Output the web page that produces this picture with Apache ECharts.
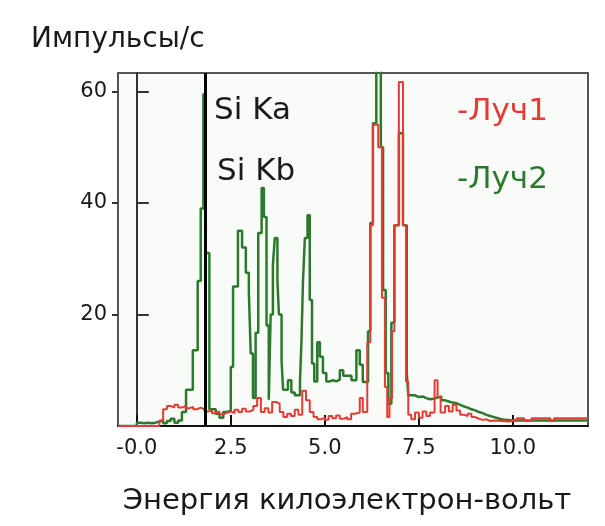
<!DOCTYPE html>
<html>
<head>
<meta charset="utf-8">
<script src="https://cdn.jsdelivr.net/npm/echarts@6/dist/echarts.min.js"></script>
<style>
html,body{margin:0;padding:0;background:#ffffff;}
#chart{width:605px;height:526px;}
</style>
</head>
<body>
<div id="chart"></div>
<script>
// Energy (keV) at the start of each step, and counts per second
const greenEnergy = [-0.5,0.0,0.1,0.2,0.3,0.4,0.5,0.6,0.7,0.8,0.9,1.0,1.1,1.2,1.31,1.49,1.62,1.70,1.77,1.83,1.93,2.1,2.2,2.3,2.4,2.5,2.56,2.69,2.8,2.9,2.98,3.03,3.09,3.16,3.23,3.32,3.38,3.45,3.51,3.56,3.62,3.67,3.74,3.78,3.85,3.89,4.02,4.11,4.2,4.34,4.38,4.42,4.47,4.54,4.6,4.66,4.72,4.8,4.87,4.95,5.04,5.13,5.22,5.31,5.4,5.49,5.6,5.71,5.84,5.93,6.01,6.15,6.21,6.28,6.37,6.49,6.55,6.62,6.69,6.77,6.85,6.97,7.08,7.18,7.22,7.3,7.4,7.5,7.6,7.7,7.8,7.9,8.0,8.1,8.2,8.3,8.4,8.5,8.6,8.7,8.8,8.9,9.0,9.1,9.2,9.3,9.4,9.5,9.6,9.7,9.8,10.0,10.5,11.0,11.5,12.0];
const greenCounts = [0,0.6,0.5,0.6,0.5,0.6,0.8,1.0,0.5,0.9,1.3,0.6,1.0,2.5,6.5,13.6,26,39,59.5,31,3,2.2,1.5,2.5,2.8,10.6,25,35,32,27.5,24,13,5,16.7,34.6,42.7,37.5,18,4.7,20,28.9,33.7,26,20,11.8,6.5,8.2,6,5.5,8,15.4,26,33.7,37.8,22.6,11.2,8,15,12.4,9.5,8,8.2,8,8.3,10,9,9,8.2,13.6,11,7.9,17,36.4,54.3,68,50,24.4,9.5,4,18.5,36,52.5,36,9.5,5.5,5.5,5.2,5.3,5.0,4.8,4.9,5.1,5.3,4.6,4.4,4.2,4.1,3.8,3.5,3.3,3.0,2.8,2.5,2.3,2.0,1.8,1.6,1.4,1.2,1.1,1.0,1.0,1.0,1.0,1.0,1.0];

const redEnergy = [-0.5,0.6,0.7,0.8,0.9,1.0,1.1,1.2,1.3,1.4,1.5,1.6,1.7,1.8,1.9,2.0,2.1,2.2,2.3,2.4,2.5,2.6,2.7,2.8,2.9,3.0,3.1,3.2,3.3,3.4,3.5,3.6,3.7,3.8,3.9,4.0,4.1,4.2,4.3,4.4,4.5,4.6,4.7,4.8,4.9,5.0,5.1,5.2,5.3,5.4,5.5,5.6,5.7,5.8,5.93,6.01,6.13,6.21,6.28,6.42,6.52,6.6,6.66,6.72,6.79,6.85,6.97,7.08,7.16,7.22,7.3,7.4,7.5,7.6,7.7,7.8,7.92,8.0,8.08,8.2,8.3,8.4,8.5,8.6,8.7,8.8,8.9,9.0,9.1,9.2,9.3,9.4,9.5,9.7,9.9,10.1,10.3,10.5,10.8,11.0,11.1,11.5,11.9,12.0];
const redCounts = [0,1.0,3.0,3.6,3.3,3.8,3.3,3.6,3.2,3.4,3.0,3.3,3.0,2.6,2.8,2.3,2.6,2.1,2.4,2.6,2.3,2.9,2.5,3.1,2.6,2.9,3.6,5.0,2.5,3.2,2.4,4.3,4.0,2.5,1.6,2.2,1.8,2.9,2.0,6.3,4.6,2.5,1.6,1.2,1.5,1.1,1.8,1.4,1.9,1.3,1.6,1.2,2.2,2.4,5.0,2.5,15,36,54,50,23,7,1.6,5,17,36,61.7,36,8,2,1.2,2.4,1.5,2.6,1.8,2.4,8.2,5.2,2.4,3.6,2.6,3.8,2.8,2.0,1.8,2.2,1.6,1.3,1.1,1.2,0.9,1.0,0.9,0.8,1.0,1.4,0.9,1.4,1.4,0.9,1.4,1.4,1.4,1.4];

const seriesNames = ['Луч1','Луч2'];
const xTickValues = [0, 2.5, 5, 7.5, 10];
const xTickLabels = ['-0.0','2.5','5.0','7.5','10.0'];
const yTickValues = [20, 40, 60];
const yTickLabels = ['20','40','60'];
const markerEnergy = [1.82];
const lineLabels = ['Si Ka','Si Kb'];

const pairs = (xs, ys) => xs.map((x, i) => [x, ys[i]]);
const FONT = 'DejaVu Sans';
const RED = '#e53b35';
const GREEN = '#2b7a2c';
const TEXT = '#1a1a1a';

const chart = echarts.init(document.getElementById('chart'));
chart.setOption({
  backgroundColor: '#ffffff',
  animation: false,
  title: {
    text: 'Импульсы/с',
    left: 26, top: 21,
    textStyle: {fontFamily: FONT, fontSize: 28, fontWeight: 'normal', color: TEXT}
  },
  legend: {
    orient: 'vertical',
    left: 447, top: 91,
    itemGap: 37,
    itemWidth: 0, itemHeight: 0,
    icon: 'rect',
    formatter: n => '-' + n,
    selectedMode: false,
    data: [
      {name: seriesNames[0], textStyle: {color: RED}},
      {name: seriesNames[1], textStyle: {color: GREEN}}
    ],
    textStyle: {fontFamily: FONT, fontSize: 31}
  },
  graphic: [
    {type: 'text', left: 214, top: 95, style: {text: lineLabels[0], font: '31px "DejaVu Sans"', fill: TEXT}},
    {type: 'text', left: 217, top: 156, style: {text: lineLabels[1], font: '31px "DejaVu Sans"', fill: TEXT}}
  ],
  grid: {
    left: 118, right: 17, top: 73, bottom: 100,
    show: true, backgroundColor: '#f9fbf8', borderColor: '#555', borderWidth: 2
  },
  xAxis: {
    type: 'value', min: -0.5, max: 12,
    name: 'Энергия килоэлектрон-вольт',
    nameLocation: 'middle', nameGap: 61,
    nameTextStyle: {fontFamily: FONT, fontSize: 29, color: TEXT, padding: [0, 12, 0, 0]},
    splitLine: {show: false},
    axisLine: {show: true, onZero: false, lineStyle: {color: '#111', width: 2}},
    axisTick: {show: true, inside: true, length: 11, customValues: xTickValues, lineStyle: {color: '#111', width: 2}},
    axisLabel: {
      customValues: xTickValues,
      formatter: v => xTickLabels[xTickValues.indexOf(v)] ?? '',
      fontFamily: FONT, fontSize: 21, color: TEXT, margin: 12
    }
  },
  yAxis: [
    {
      type: 'value', min: 0, max: 63.3,
      splitLine: {show: false},
      axisLine: {show: true, lineStyle: {color: '#333', width: 2}},
      axisTick: {show: true, inside: true, length: 12, customValues: yTickValues, lineStyle: {color: '#333', width: 2}},
      axisLabel: {
        customValues: yTickValues,
        formatter: v => yTickLabels[yTickValues.indexOf(v)] ?? '',
        fontFamily: FONT, fontSize: 21, color: TEXT, margin: 11
      }
    },
    {
      type: 'value', min: 0, max: 63.3, position: 'left',
      splitLine: {show: false},
      axisLine: {show: false},
      axisTick: {show: true, inside: false, length: 6, customValues: yTickValues, lineStyle: {color: '#333', width: 2}},
      axisLabel: {show: false}
    }
  ],
  series: [
    {
      name: seriesNames[1], type: 'line', step: 'end', symbol: 'none',
      data: pairs(greenEnergy, greenCounts),
      lineStyle: {color: GREEN, width: 2.5}, itemStyle: {color: GREEN},
      markLine: {
        silent: true, symbol: 'none', label: {show: false},
        lineStyle: {color: '#000', width: 3, type: 'solid'},
        data: markerEnergy.map(e => ({xAxis: e}))
      },
      z: 2
    },
    {
      name: seriesNames[0], type: 'line', step: 'end', symbol: 'none',
      data: pairs(redEnergy, redCounts),
      lineStyle: {color: RED, width: 2}, itemStyle: {color: RED},
      z: 3
    }
  ]
});
</script>
</body>
</html>
